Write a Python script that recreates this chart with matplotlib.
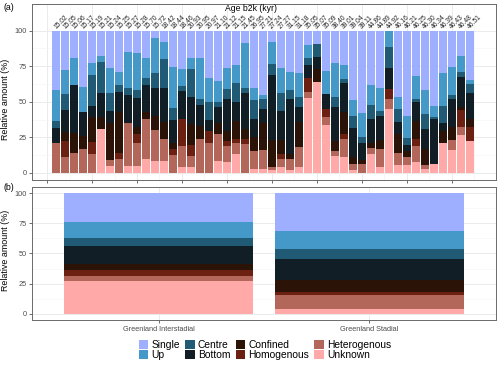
import matplotlib.pyplot as plt
import numpy as np
from matplotlib.patches import Patch
from matplotlib.ticker import FixedLocator

plt.rcParams['font.family'] = ['Liberation Sans', 'DejaVu Sans']

# ages (kyr b2k) of the samples, panel (a)
ages = ['15.02', '15.05', '15.06', '15.17', '15.19', '15.21', '15.24', '15.25', '15.27', '15.28',
        '15.70', '15.72', '18.42', '18.44', '18.46', '20.93', '20.95', '20.97', '21.10', '21.12',
        '21.15', '21.45', '26.95', '27.21', '27.24', '27.27', '31.15', '31.18', '35.05', '35.07',
        '35.09', '38.40', '39.01', '39.04', '39.11', '44.86', '44.89', '44.92', '46.16', '46.21',
        '46.25', '46.30', '46.34', '46.39', '46.43', '46.48', '46.51']

# share of each class per sample (%)
unknown = [0, 0, 0, 0, 0, 30.5, 4.7, 0, 5, 5, 9.5, 8, 8, 0, 4, 4.2, 0, 0, 8, 7.5,
           13.1, 0, 3, 3, 2, 4.2, 2.3, 4.2, 52.6, 63.8, 33.3, 11.7, 11.3, 2.3, 0, 13.1, 3.8,
           44.6, 5.6, 5.2, 7.7, 2.8, 6, 20.7, 16, 26.3, 22.1]
heterogenous = [21, 11, 14, 17, 13, 0, 4.2, 9.4, 30, 16, 28.5, 22, 16, 12.7, 15, 7.5, 24, 21,
                19.2, 11.3, 7.6, 20.2, 12.5, 13, 2.2, 5.2, 7.6, 14.1, 4.2, 0, 6.1, 3.8, 12.2, 3.8,
                6.1, 4.3, 12.6, 7.5, 8, 6.1, 11.1, 2.4, 0, 0, 7, 6.1, 0]
homogenous = [0, 11.5, 0, 0, 8.5, 0, 0, 4.7, 0, 6, 0, 0, 0, 3.7, 19, 7.5, 0, 8.5, 0, 3.7,
              3.2, 3.7, 0, 0, 0, 3.7, 0, 0, 9.9, 0, 5.2, 0, 3.7, 0, 0, 0, 0, 7.1, 0, 0,
              4.7, 0, 0, 0, 0, 11.7, 9.8]
confined = [0, 6, 14, 9, 17.5, 8.5, 25.8, 28.6, 0, 5, 4.5, 10, 12, 4.3, 0, 14.8, 9, 0, 7.5,
            7.1, 12.3, 7.1, 9.4, 19.2, 18.8, 9.9, 3.2, 17.4, 0, 9, 0, 7, 15.8, 5.2, 2.8, 3.3,
            6.6, 0, 13.6, 3.7, 13.1, 11.2, 0, 8.4, 9.4, 2.4, 5.7]
bottom = [10.5, 16, 33.5, 17, 8, 17, 8.5, 14.1, 20, 20.5, 19.5, 20, 24, 16.4, 19.7, 19.5, 14.5,
          7.5, 11.3, 22, 13.6, 24.9, 12.7, 9.4, 46, 20.2, 38.5, 10.3, 9.4, 8.9, 10.8, 23.5, 19.9,
          20.2, 12.2, 16.9, 16.9, 14.5, 8.5, 4.7, 13.2, 14.1, 32, 6.1, 19.2, 21.1, 18.3]
centre = [5, 11, 0, 0, 21.5, 22, 13, 4.7, 5, 6, 4.5, 10, 20, 8.4, 3.3, 19.3, 4.7, 12.7, 3.8,
          7.6, 13.6, 3.7, 13.6, 7, 7.5, 13.1, 6.6, 7, 4.7, 9.1, 0, 7.5, 3.3, 8.4, 3.8, 10.3,
          3.3, 15, 8.9, 4.7, 2.3, 10.8, 1.5, 11.7, 2.9, 3.3, 6.5]
up = [21.5, 16.5, 19.5, 17.5, 9, 4.5, 17.5, 9.5, 25, 26, 14.5, 25, 12, 29.1, 11.8, 7.7, 28.3,
      17.1, 15, 14.5, 12.2, 31.9, 8.2, 3.1, 15.5, 17.4, 12.7, 17.5, 9.3, 0, 16.4, 23.5, 9.8,
      11.3, 17.4, 13.6, 16.4, 11.3, 8.9, 15.5, 16, 17.1, 7.5, 23.5, 19.7, 11.3, 2.9]
single = [42, 28, 19, 39.5, 22.5, 17.5, 26.3, 29, 15, 15.5, 19, 5, 8, 25.4, 27.2, 19.5, 19.5,
          33.2, 35.2, 26.3, 24.4, 8.5, 40.6, 45.3, 8, 26.3, 29.1, 29.5, 9.9, 9.2, 28.2, 23, 24,
          48.8, 57.7, 38.5, 40.4, 0, 46.5, 60.1, 31.9, 41.6, 53, 29.6, 25.8, 17.8, 34.7]

# panel (b): Greenland interstadial / stadial
periods = ['Greenland Interstadial', 'Greenland Stadial']
unknown_b = [27.2, 4.4]
heterogenous_b = [4.5, 11.2]
homogenous_b = [5.0, 2.2]
confined_b = [4.4, 10.0]
bottom_b = [15.0, 17.8]
centre_b = [6.7, 8.3]
up_b = [13.3, 15.0]
single_b = [23.9, 31.1]

names = ['Single', 'Up', 'Centre', 'Bottom', 'Confined', 'Homogenous', 'Heterogenous', 'Unknown']
colors = ['#9FAFFF', '#4499C9', '#215A74', '#121E26', '#2C1307', '#6B2012', '#B3665A', '#FFA9A9']

stack_a = [unknown, heterogenous, homogenous, confined, bottom, centre, up, single]
stack_b = [unknown_b, heterogenous_b, homogenous_b, confined_b, bottom_b, centre_b, up_b, single_b]
stack_cols = colors[::-1]

grey_txt = '#4D4D4D'
fig = plt.figure(figsize=(5, 3.65), dpi=100)
ax1 = fig.add_axes([0.064, 0.5068, 0.928, 0.4822])
ax2 = fig.add_axes([0.064, 0.1233, 0.928, 0.3644])


def style(ax):
    ax.set_axisbelow(True)
    ax.grid(which='major', color='#EBEBEB', lw=0.7)
    ax.grid(which='minor', color='#F4F4F4', lw=0.4)
    for s in ax.spines.values():
        s.set_color('#6A6A6A')
        s.set_linewidth(0.7)
    ax.tick_params(which='major', length=2.5, width=0.5, color='#333333',
                   labelsize=5.3, labelcolor=grey_txt, pad=1.5)
    ax.tick_params(which='minor', length=0)
    ax.set_yticks([0, 25, 50, 75, 100])
    ax.yaxis.set_minor_locator(FixedLocator([12.5, 37.5, 62.5, 87.5]))


# (a)
pos = np.arange(1, len(ages) + 1)
vals = np.array(stack_a, dtype=float)
vals = vals / vals.sum(axis=0) * 100
base = np.zeros(len(ages))
for v, c in zip(vals, stack_cols):
    ax1.bar(pos, v, bottom=base, width=0.9, color=c, linewidth=0)
    base += v
style(ax1)
ax1.set_xlim(-1.67, 49.9)
ax1.set_ylim(-5.1, 118.8)
ax1.set_xticks(np.arange(0, 50, 5))
ax1.set_xticklabels([])
ax1.xaxis.set_minor_locator(FixedLocator(np.arange(2.5, 50, 5)))
for p, a in zip(pos, ages):
    ax1.text(p - 0.1, 101.8, a, rotation=45, ha='left', va='center', rotation_mode='anchor',
             fontsize=4.8, color='#222222')
ax1.text(22.7, 115.3, 'Age b2k (kyr)', ha='center', va='center', fontsize=6.2)
ax1.set_ylabel('Relative amount (%)', fontsize=6.4)
ax1.yaxis.set_label_coords(-0.047, 0.46)

# (b)
vb = np.array(stack_b, dtype=float)
vb = vb / vb.sum(axis=0) * 100
base = np.zeros(2)
for v, c in zip(vb, stack_cols):
    ax2.bar([1, 2], v, bottom=base, width=0.9, color=c, linewidth=0)
    base += v
style(ax2)
ax2.set_xlim(0.4, 2.6)
ax2.set_ylim(-5, 105)
ax2.set_xticks([1, 2])
ax2.set_xticklabels(periods)
ax2.set_ylabel('Relative amount (%)', fontsize=6.4)
ax2.yaxis.set_label_coords(-0.047, 0.52)

fig.text(3 / 500, 1 - 8 / 365, '(a)', fontsize=6.3, ha='left', va='center')
fig.text(3 / 500, 1 - 188 / 365, '(b)', fontsize=6.3, ha='left', va='center')

handles = [Patch(facecolor=c, edgecolor='none') for c in colors]
fig.legend(handles, names, ncol=4, loc='center', bbox_to_anchor=(265 / 500, 1 - 350 / 365),
           frameon=False, fontsize=7.4, handlelength=0.95, handleheight=0.95,
           handletextpad=0.3, columnspacing=0.5, labelspacing=0.05, borderpad=0)

fig.savefig('out.png', dpi=100)
